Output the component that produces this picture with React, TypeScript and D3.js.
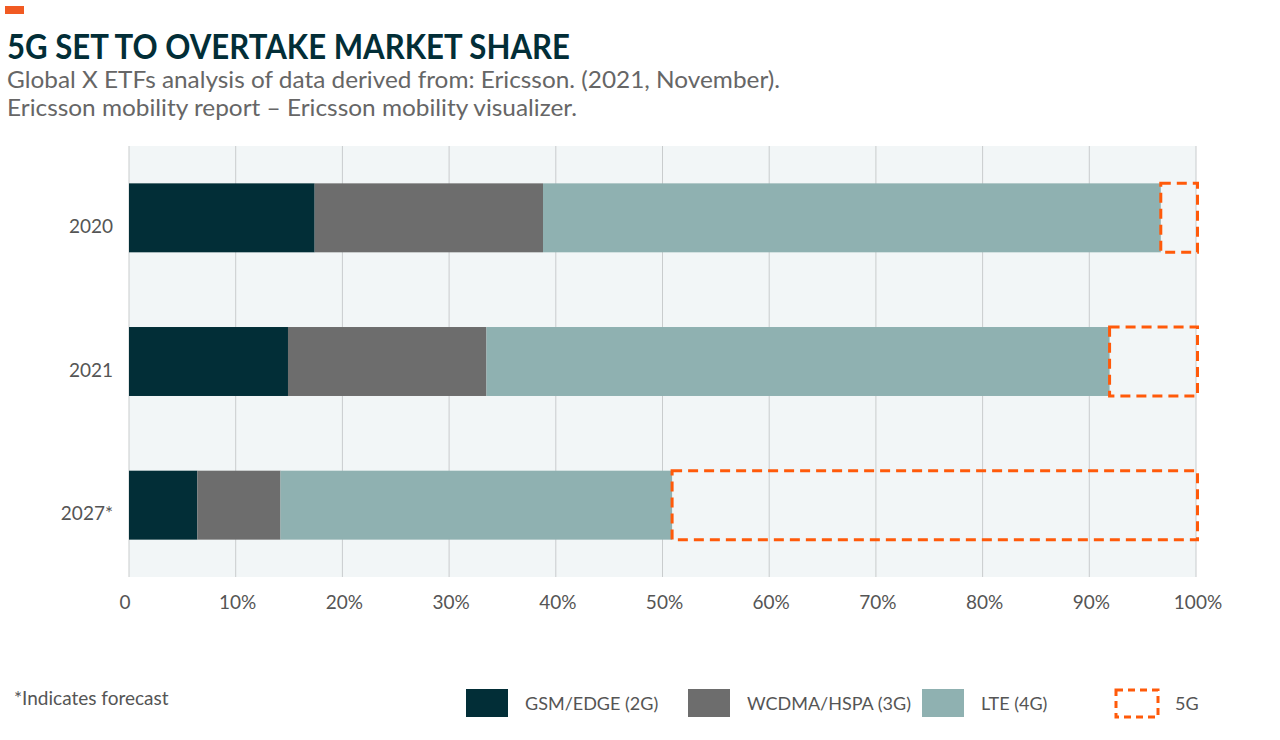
import React from "react";
import * as d3 from "d3";

const years = ["2020", "2021", "2027*"];
const seriesNames = ["GSM/EDGE (2G)", "WCDMA/HSPA (3G)", "LTE (4G)", "5G"];
const gsm = [17.4, 14.9, 6.4];
const wcdma = [21.4, 18.6, 7.8];
const lte = [57.9, 58.4, 36.7];
const fiveG = [3.3, 8.1, 49.1];
const xTicks = [0, 10, 20, 30, 40, 50, 60, 70, 80, 90, 100];
const colors = ["#022e37", "#6d6d6d", "#8fb1b1", "#ff5a0a"];

const FONT = "Lato, 'Open Sans', sans-serif";

export default function App() {
  const W = 1280, H = 740;
  const left = 129, right = 1196, top = 146, bottom = 577;
  const x = d3.scaleLinear().domain([0, 100]).range([left, right]);
  const y = d3.scaleBand().domain(years).range([top, bottom]).paddingInner(0.52).paddingOuter(0.26);

  const rows = years.map((yr, i) => {
    const vals = [gsm[i], wcdma[i], lte[i], fiveG[i]];
    let acc = 0;
    const segs = vals.map((v, k) => {
      const s = { k, x0: acc, x1: acc + v };
      acc += v;
      return s;
    });
    return { yr, segs };
  });

  const legendItems = [
    { name: seriesNames[0], sx: 466, tx: 525, k: 0 },
    { name: seriesNames[1], sx: 688, tx: 747, k: 1 },
    { name: seriesNames[2], sx: 922, tx: 981, k: 2 },
    { name: seriesNames[3], sx: 1116, tx: 1175, k: 3 },
  ];

  return (
    <svg width={W} height={H} style={{ position: "absolute", left: 0, top: 0, background: "#fff" }} fontFamily={FONT}>
      <rect x={5} y={6} width={19} height={8} fill="#f15a22" />
      <text x={7} y={59} fontSize={35} fontWeight={700} fill="#022e37" textLength={563} lengthAdjust="spacingAndGlyphs">5G SET TO OVERTAKE MARKET SHARE</text>
      <text x={7} y={88} fontSize={24} fill="#666" textLength={773} lengthAdjust="spacingAndGlyphs">Global X ETFs analysis of data derived from: Ericsson. (2021, November).</text>
      <text x={7} y={116} fontSize={24} fill="#666" textLength={570} lengthAdjust="spacingAndGlyphs">Ericsson mobility report – Ericsson mobility visualizer.</text>

      <rect x={left} y={top} width={right - left} height={bottom - top} fill="#f2f6f7" />
      {xTicks.map((t) => (
        <line key={t} x1={x(t)} x2={x(t)} y1={top} y2={bottom} stroke="#c9cccd" strokeWidth={1} />
      ))}
      {xTicks.map((t) => (
        <text key={"l" + t} x={x(t) + (t === 0 ? -4 : 2)} y={609} fontSize={19} fill="#555" textAnchor="middle">
          {t === 0 ? "0" : t + "%"}
        </text>
      ))}
      {rows.map((r) => (
        <g key={r.yr}>
          <text x={113} y={(y(r.yr) as number) + y.bandwidth() / 2 + 15} fontSize={19} fill="#555" textAnchor="end">{r.yr}</text>
          {r.segs.map((s) =>
            s.k < 3 ? (
              <rect key={s.k} x={x(s.x0)} y={y(r.yr)} width={x(s.x1) - x(s.x0)} height={y.bandwidth()} fill={colors[s.k]} />
            ) : (
              <rect key={s.k} x={x(s.x0)} y={y(r.yr)} width={x(Math.min(100, s.x1)) - x(s.x0) + 1.5} height={y.bandwidth()} fill="none" stroke={colors[3]} strokeWidth={3} strokeDasharray="10 6" />
            )
          )}
        </g>
      ))}

      <text x={14} y={705} fontSize={19} fill="#555">*Indicates forecast</text>
      {legendItems.map((it) => (
        <g key={it.name}>
          {it.k < 3 ? (
            <rect x={it.sx} y={689} width={42} height={28} fill={colors[it.k]} />
          ) : (
            <rect x={it.sx} y={690} width={42} height={27} fill="none" stroke={colors[3]} strokeWidth={3} strokeDasharray="7 5" />
          )}
          <text x={it.tx} y={710} fontSize={18} fill="#555">{it.name}</text>
        </g>
      ))}
    </svg>
  );
}
